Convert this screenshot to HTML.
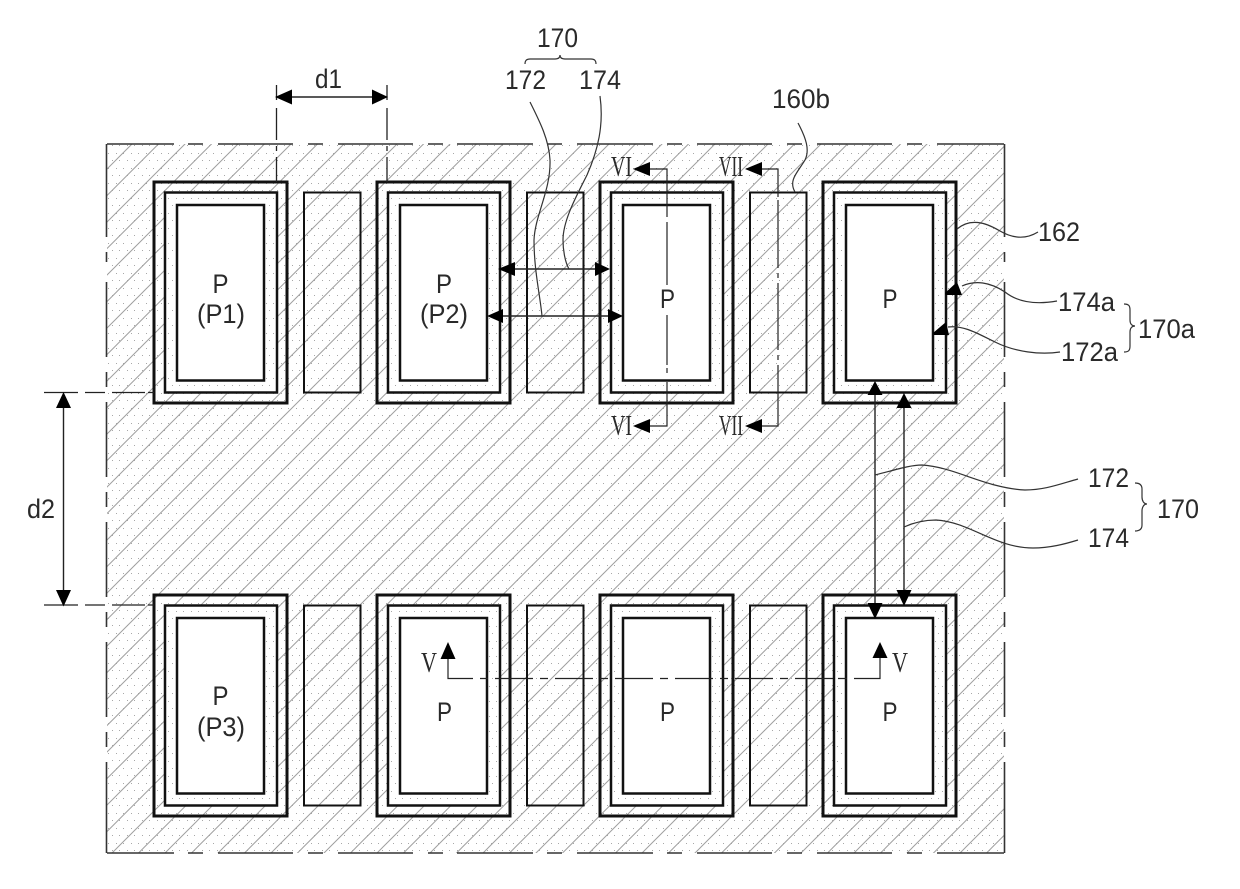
<!DOCTYPE html>
<html><head><meta charset="utf-8">
<style>
html,body{margin:0;padding:0;background:#fff;width:1240px;height:889px;overflow:hidden}
svg{display:block}
text{font-family:"Liberation Sans",sans-serif;font-size:27px;fill:#2a2a2a}
.r{font-family:"Liberation Serif",serif;font-size:28px}
</style></head><body>
<svg width="1240" height="889" viewBox="0 0 1240 889" xmlns="http://www.w3.org/2000/svg">
<defs>
<pattern id="dots" patternUnits="userSpaceOnUse" width="15" height="15">
<rect x="3" y="3" width="1" height="1" fill="#a8a8a8"/><rect x="11" y="3" width="1" height="1" fill="#a8a8a8"/>
<rect x="7" y="10" width="1" height="1" fill="#a8a8a8"/><rect x="14" y="10" width="1" height="1" fill="#a8a8a8"/>
</pattern>
<pattern id="hatch" patternUnits="userSpaceOnUse" width="26.5" height="26.5" patternTransform="translate(11 0)">
<path d="M-2 28.5L28.5 -2M-2 2L2 -2M24.5 28.5L28.5 24.5" stroke="#a0a0a0" stroke-width="1" fill="none"/>
</pattern>
<g id="cell">
<rect x="154" y="182" width="133" height="221" fill="none" stroke="#111" stroke-width="3"/>
<rect x="165" y="192.500" width="112" height="200" fill="#fff" stroke="none"/>
<rect x="165" y="192.500" width="112" height="200" fill="url(#dots)" stroke="#111" stroke-width="2.500"/>
<rect x="177" y="205" width="87" height="175.500" fill="#fff" stroke="#111" stroke-width="2.500"/>
</g>
<rect id="sp" x="304" y="192.500" width="56.500" height="200" fill="none" stroke="#111" stroke-width="2"/>
</defs>

<rect x="107" y="144" width="897" height="709" fill="url(#dots)"/>
<rect x="107" y="144" width="897" height="709" fill="url(#hatch)"/>

<path fill="none" stroke="#333" stroke-width="1.600" d="M107 144H174M188 144H203M218 144H293M308 144H323M338 144H413M428 144H443M457 144H533M547 144H562M577 144H653M667 144H682M697 144H772M787 144H802M817 144H892M907 144H922M937 144H1004
M107 853H174M188 853H203M218 853H293M308 853H323M338 853H413M428 853H443M457 853H533M547 853H562M577 853H653M667 853H682M697 853H772M787 853H802M817 853H892M907 853H922M937 853H1004
M106.500 144V237M106.500 252V262M106.500 282V357M106.500 372V387M106.500 402V477M106.500 492V507M106.500 522V597M106.500 612V627M106.500 642V717M106.500 732V747M106.500 762V853
M1004.500 144V237M1004.500 252V262M1004.500 282V357M1004.500 372V387M1004.500 402V477M1004.500 492V507M1004.500 522V597M1004.500 612V627M1004.500 642V717M1004.500 732V747M1004.500 762V853"/>

<use href="#cell"/><use href="#cell" x="223"/><use href="#cell" x="446"/><use href="#cell" x="669"/>
<use href="#cell" y="413"/><use href="#cell" x="223" y="413"/><use href="#cell" x="446" y="413"/><use href="#cell" x="669" y="413"/>
<use href="#sp"/><use href="#sp" x="223"/><use href="#sp" x="446"/>
<use href="#sp" y="413"/><use href="#sp" x="223" y="413"/><use href="#sp" x="446" y="413"/>

<!-- extension dashes -->
<path fill="none" stroke="#222" stroke-width="1.300" d="M276.500 85V100M276.500 108V140M276.500 146V151M276.500 157V182M387 85V100M387 108V140M387 146V151M387 157V182
M44 392.500H78M85 392.500H105M112 392.500H145M148 392.500H154M44 605H78M85 605H105M112 605H145M148 605H154"/>
<!-- dimension lines -->
<path fill="none" stroke="#222" stroke-width="1.400" d="M290 97H374M63.500 406V592M500 269H608M490 316H620M875 383V617M904 395V604"/>
<path fill="#000" d="M275 97L292 89.500V104.500ZM388 97L372 89.500V104.500ZM63.500 392L71 408H56ZM63.500 606.500L71 590H56Z
M498 269L515 262V276ZM610 269L595 262V276ZM487 316L503 309V323ZM623 316L608 309V323Z
M875 381L882.500 395H867.500ZM904 393L911.500 408H896.500ZM904 606L911.500 590H896.500ZM875 619L882.500 603H867.500Z
M945 293L957 282L962 295H946ZM933 333L946 322L949 335H934Z
M633 169L650 162V176ZM633 426L650 419V433ZM745 169L762 162V176ZM745 426L762 419V433Z
M448 642L455.500 659H440.500ZM880 642L887.500 658H872.500Z"/>
<!-- section lines -->
<path fill="none" stroke="#222" stroke-width="1.200" d="M650 169H667V217M667 222V285M667 315V365M667 368V373M667 382V426H650
M762 169H778V197M778 200V268M778 273V278M778 283V350M778 355V360M778 365V426H762
M448 659V678.500H473M480 678.500H488M495 678.500H533M540 678.500H548M555 678.500H593M600 678.500H608M615 678.500H653M660 678.500H668M675 678.500H713M720 678.500H728M735 678.500H773M780 678.500H788M795 678.500H833M838 678.500H847M854 678.500H880V658"/>
<!-- leaders and braces -->
<path fill="none" stroke="#333" stroke-width="1.200" d="M530 102C540 122 549 140 550 160C551 190 535 215 534 240C534 270 540 295 542 316
M600 96C604 125 598 150 587 175C577 195 563 220 563 240C563 250 565 262 569 269
M798 123C806 138 810 150 805 160C798 172 788 180 795 192
M957 229C970 218 985 222 1000 231C1012 238 1025 240 1038 232
M962 286C975 280 990 282 1005 292C1020 304 1040 304 1057 301
M948 327C965 325 980 335 995 342C1015 352 1040 355 1060 352
M875 475C895 470 910 465 922 465C955 467 985 488 1025 490C1045 490 1060 484 1078 479
M904 527C915 522 925 520 936 520C970 522 995 548 1033 548C1050 548 1065 544 1078 540
M525 64C525 60 527 59 530 59H555C558 59 560 58 560 55C560 58 562 59 565 59H591C594 59 596 60 596 64
M1124 304C1129 304 1130 306 1130 310V320C1130 324 1132 326 1135 326C1132 326 1130 328 1130 332V346C1130 350 1129 352 1124 352
M1135 483C1140 483 1142 485 1142 489V497C1142 501 1144 504 1147 504C1144 504 1142 507 1142 511V525C1142 529 1140 531 1135 531"/>

<!-- labels -->
<text x="315" y="88" textLength="27" lengthAdjust="spacingAndGlyphs">d1</text>
<text x="27" y="518" textLength="28" lengthAdjust="spacingAndGlyphs">d2</text>
<text x="537" y="47" textLength="41" lengthAdjust="spacingAndGlyphs">170</text>
<text x="505" y="89" textLength="41" lengthAdjust="spacingAndGlyphs">172</text>
<text x="579" y="89" textLength="42" lengthAdjust="spacingAndGlyphs">174</text>
<text x="772" y="108" textLength="58" lengthAdjust="spacingAndGlyphs">160b</text>
<text x="1038" y="241" textLength="42" lengthAdjust="spacingAndGlyphs">162</text>
<text x="1058" y="311" textLength="57" lengthAdjust="spacingAndGlyphs">174a</text>
<text x="1061" y="361" textLength="57" lengthAdjust="spacingAndGlyphs">172a</text>
<text x="1138" y="338" textLength="57" lengthAdjust="spacingAndGlyphs">170a</text>
<text x="1088" y="487" textLength="41" lengthAdjust="spacingAndGlyphs">172</text>
<text x="1088" y="547" textLength="41" lengthAdjust="spacingAndGlyphs">174</text>
<text x="1157" y="518" textLength="42" lengthAdjust="spacingAndGlyphs">170</text>

<text x="212.500" y="293" textLength="16" lengthAdjust="spacingAndGlyphs">P</text>
<text x="197" y="323" textLength="48" lengthAdjust="spacingAndGlyphs">(P1)</text>
<text x="436" y="293" textLength="16" lengthAdjust="spacingAndGlyphs">P</text>
<text x="420" y="323" textLength="48" lengthAdjust="spacingAndGlyphs">(P2)</text>
<text x="660" y="308" textLength="15" lengthAdjust="spacingAndGlyphs">P</text>
<text x="882.500" y="308" textLength="15" lengthAdjust="spacingAndGlyphs">P</text>
<text x="212.500" y="705" textLength="16" lengthAdjust="spacingAndGlyphs">P</text>
<text x="197" y="736" textLength="48" lengthAdjust="spacingAndGlyphs">(P3)</text>
<text x="437" y="721" textLength="15" lengthAdjust="spacingAndGlyphs">P</text>
<text x="660" y="721" textLength="15" lengthAdjust="spacingAndGlyphs">P</text>
<text x="882.500" y="721" textLength="15" lengthAdjust="spacingAndGlyphs">P</text>

<text class="r" x="611" y="176" textLength="21" lengthAdjust="spacingAndGlyphs">VI</text>
<text class="r" x="611" y="435" textLength="21" lengthAdjust="spacingAndGlyphs">VI</text>
<text class="r" x="719" y="176" textLength="24" lengthAdjust="spacingAndGlyphs">VII</text>
<text class="r" x="719" y="435" textLength="24" lengthAdjust="spacingAndGlyphs">VII</text>
<text class="r" x="421" y="672" textLength="16" lengthAdjust="spacingAndGlyphs">V</text>
<text class="r" x="892" y="672" textLength="16" lengthAdjust="spacingAndGlyphs">V</text>
</svg>
</body></html>
